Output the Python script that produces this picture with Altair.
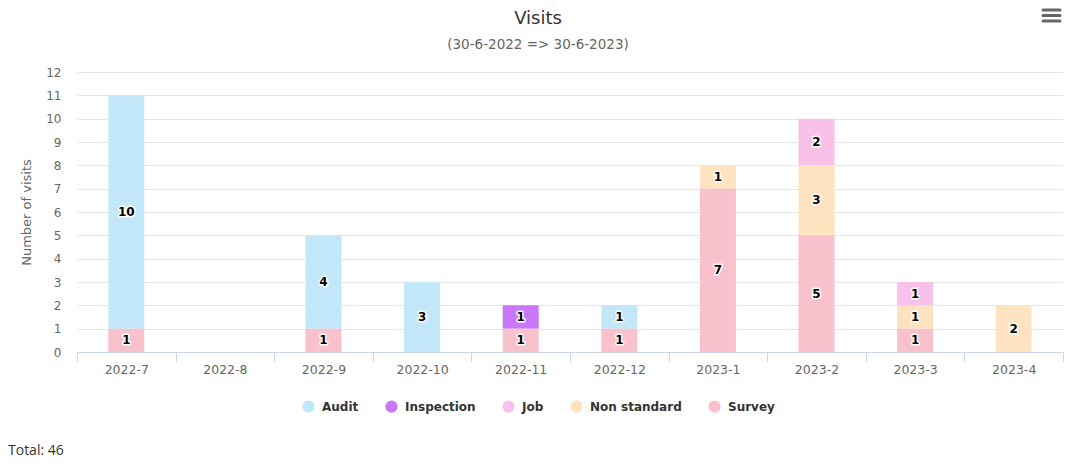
import altair as alt
import pandas as pd

months = ["2022-7", "2022-8", "2022-9", "2022-10", "2022-11", "2022-12",
          "2023-1", "2023-2", "2023-3", "2023-4"]
series = ["Audit", "Inspection", "Job", "Non standard", "Survey"]
audit = [10, 0, 4, 3, 0, 1, 0, 0, 0, 0]
inspection = [0, 0, 0, 0, 1, 0, 0, 0, 0, 0]
job = [0, 0, 0, 0, 0, 0, 0, 2, 1, 0]
non_standard = [0, 0, 0, 0, 0, 0, 1, 3, 1, 2]
survey = [1, 0, 1, 0, 1, 1, 7, 5, 1, 0]
colors = ["#c2e7f9", "#c878f7", "#f9c1ea", "#fee3c1", "#f9c1cc"]
y_ticks = list(range(0, 13))

title_text = "Visits"
subtitle_text = "(30-6-2022 => 30-6-2023)"
y_title = "Number of visits"

rows = []
for s, vals in zip(series, [audit, inspection, job, non_standard, survey]):
    for m, v in zip(months, vals):
        if v > 0:
            rows.append({"month": m, "series": s, "value": v, "ord": series.index(s)})
df = pd.DataFrame(rows)
total = int(df["value"].sum())

FONT = "DejaVu Sans"

x_scale = alt.Scale(domain=months, paddingInner=0, paddingOuter=0)
y_scale = alt.Scale(domain=[0, 12], nice=False)

x_axis = alt.Axis(
    title=None, labelAngle=0, domainColor="#ccd6eb", tickColor="#ccd6eb",
    tickSize=10, tickBand="extent", labelColor="#666666", labelFontSize=12.5,
    labelFont=FONT, labelPadding=1, grid=False,
)
y_axis = alt.Axis(
    title=y_title, titleColor="#666666", titleFontWeight="normal",
    titleFontSize=13, titleFont=FONT, titlePadding=12,
    values=y_ticks, gridColor="#e6e6e6", domain=False,
    ticks=False, tickSize=0, labelPadding=16, labelColor="#666666",
    labelFontSize=12, labelFont=FONT, labelOverlap=False,
)

base = alt.Chart(df).transform_stack(
    stack="value", groupby=["month"], as_=["y0", "y1"],
    sort=[alt.SortField("ord", order="descending")],
).transform_calculate(mid="(datum.y0 + datum.y1) / 2")

bars = base.mark_bar(size=36).encode(
    x=alt.X("month:N", sort=months, scale=x_scale, axis=x_axis),
    y=alt.Y("y0:Q", scale=y_scale, axis=y_axis),
    y2="y1:Q",
    color=alt.Color(
        "series:N",
        scale=alt.Scale(domain=series, range=colors),
        legend=alt.Legend(
            orient="none", legendX=225, legendY=328, direction="horizontal",
            title=None, symbolType="circle", symbolSize=150, symbolStrokeWidth=0,
            symbolOpacity=1, labelFont=FONT, labelFontWeight="bold",
            labelFontSize=12, labelColor="#333333", columnPadding=26,
            labelOffset=7,
        ),
    ),
)

halo = base.mark_text(
    font=FONT, fontWeight="bold", fontSize=12, color="white",
    stroke="white", strokeWidth=3, strokeJoin="round",
).encode(
    x=alt.X("month:N", sort=months, scale=x_scale, axis=x_axis),
    y=alt.Y("mid:Q", scale=y_scale, axis=y_axis),
    text="value:Q",
)

labels = base.mark_text(
    font=FONT, fontWeight="bold", fontSize=12, color="black",
).encode(
    x=alt.X("month:N", sort=months, scale=x_scale, axis=x_axis),
    y=alt.Y("mid:Q", scale=y_scale, axis=y_axis),
    text="value:Q",
)

title = alt.Chart(pd.DataFrame({"t": [title_text]})).mark_text(
    font=FONT, fontSize=18, color="#333333", baseline="middle",
).encode(x=alt.value(461), y=alt.value(-53), text="t:N")

subtitle = alt.Chart(pd.DataFrame({"t": [subtitle_text]})).mark_text(
    font=FONT, fontSize=13.5, color="#666666", baseline="middle",
).encode(x=alt.value(461), y=alt.value(-27), text="t:N")

one = pd.DataFrame({"k": [0]})
menu_layers = [
    alt.Chart(one).mark_rule(color="#666666", strokeWidth=3, strokeCap="round").encode(
        x=alt.value(966), x2=alt.value(983), y=alt.value(yy)
    )
    for yy in (-62, -56.5, -51)
]

total_txt = alt.Chart(pd.DataFrame({"t": [f"Total: {total}"]})).mark_text(
    font="Open Sans", fontSize=14, color="#333333", align="left", baseline="middle",
).encode(x=alt.value(-69), y=alt.value(379), text="t:N")

chart = alt.layer(bars, halo, labels, title, subtitle, *menu_layers, total_txt).properties(
    width=986, height=280,
    padding={"left": 69, "top": 64, "right": 16, "bottom": 106},
    autosize=alt.AutoSizeParams(type="none"),
).configure_view(stroke=None)

chart.save("out.html", embed_options={"renderer": "svg", "actions": False})
